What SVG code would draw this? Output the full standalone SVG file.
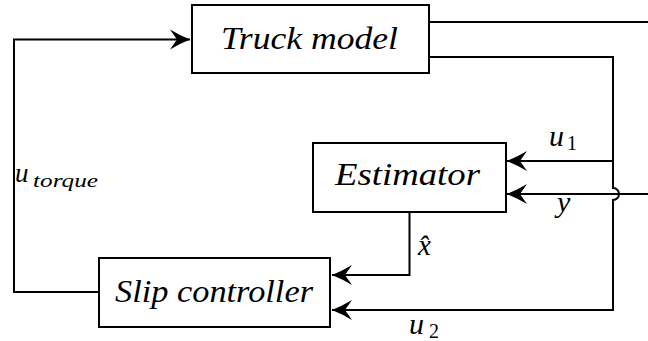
<svg xmlns="http://www.w3.org/2000/svg" width="648" height="341" viewBox="0 0 648 341">
<style>
.box{fill:#fff;stroke:#000;stroke-width:2}
.ln{fill:none;stroke:#000;stroke-width:2}
</style>
<defs>
<marker id="arr" markerUnits="userSpaceOnUse" markerWidth="22" markerHeight="22" viewBox="-21 -11 22 22" refX="0" refY="0" orient="auto">
<path d="M0,0 Q-10,-4 -20,-10 L-13,0 L-20,10 Q-10,4 0,0 Z" fill="#000"/>
</marker>
</defs>
<g id="connectors">
<path class="ln" d="M429,22 H648"/>
<path class="ln" d="M99,292 H14 V39.5 H190" marker-end="url(#arr)"/>
<path class="ln" d="M429,57 H613 V188 A6,6 0 0 1 613,200 V310 H332" marker-end="url(#arr)"/>
<path class="ln" d="M613,161 H507" marker-end="url(#arr)"/>
<path class="ln" d="M648,194 H507" marker-end="url(#arr)"/>
<path class="ln" d="M409.5,212 V275 H332" marker-end="url(#arr)"/>
</g>
<g font-family="Liberation Serif, serif" font-style="italic" fill="#000">
<g id="truck">
<rect class="box" x="192" y="5" width="237" height="68"/>
<text x="221" y="49" font-size="31" textLength="177" lengthAdjust="spacingAndGlyphs">Truck model</text>
</g>
<g id="estimator">
<rect class="box" x="313" y="143" width="193" height="69"/>
<text x="335" y="185" font-size="31" textLength="145" lengthAdjust="spacingAndGlyphs">Estimator</text>
</g>
<g id="slip">
<rect class="box" x="99" y="258" width="231" height="69"/>
<text x="115" y="302" font-size="31" textLength="198" lengthAdjust="spacingAndGlyphs">Slip controller</text>
</g>
<g id="labels">
<text x="549" y="146" font-size="30">u</text>
<text x="567" y="150" font-size="20" font-style="normal">1</text>
<text x="557" y="212" font-size="30">y</text>
<text x="418" y="255" font-size="29">x̂</text>
<text x="409" y="334" font-size="30">u</text>
<text x="429" y="338" font-size="20" font-style="normal">2</text>
<text x="15" y="182" font-size="27">u</text>
<text x="33" y="187" font-size="19" textLength="65" lengthAdjust="spacingAndGlyphs">torque</text>
</g>
</g>
</svg>
